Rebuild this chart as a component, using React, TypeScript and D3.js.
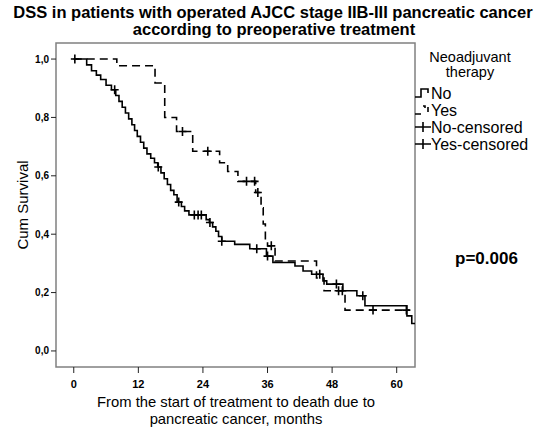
import React, { useEffect, useRef } from 'react';
import * as d3 from 'd3';

// step points [month, survival after the step]
const noSteps: [number, number][] = [
  [2.4, 0.98], [3.3, 0.96], [4.2, 0.945], [5.0, 0.93], [6.0, 0.91], [7.0, 0.895],
  [7.8, 0.875], [8.4, 0.855], [9.0, 0.835], [9.6, 0.815], [10.2, 0.795], [10.8, 0.775],
  [11.3, 0.755], [11.8, 0.735], [12.4, 0.715], [13.0, 0.695], [13.6, 0.675], [14.3, 0.66],
  [15.0, 0.645], [15.6, 0.63], [16.2, 0.61], [16.8, 0.59], [17.4, 0.57], [18.0, 0.55],
  [18.6, 0.535], [19.2, 0.51], [20.0, 0.495], [20.6, 0.48], [21.4, 0.466], [24.6, 0.45],
  [25.2, 0.44], [25.8, 0.425], [26.4, 0.41], [26.9, 0.392], [27.5, 0.376], [29.9, 0.365],
  [32.7, 0.35], [35.8, 0.325], [37.0, 0.303], [41.1, 0.291], [42.6, 0.274], [44.2, 0.263],
  [46.3, 0.24], [47.0, 0.229], [50.0, 0.206], [52.6, 0.189], [54.1, 0.155], [61.9, 0.12],
  [62.8, 0.094],
];
const noEnd = 63.4;
const noCensored = [7.6, 15.7, 19.5, 22.4, 23.1, 23.7, 25.3, 27.5, 34.0, 36.0, 45.7, 48.8, 53.7];

const yesSteps: [number, number][] = [
  [8.0, 0.977], [15.1, 0.918], [16.9, 0.80], [19.1, 0.752], [22.1, 0.684], [27.1, 0.645],
  [28.6, 0.615], [30.5, 0.581], [33.8, 0.543], [34.8, 0.49], [35.2, 0.435], [35.6, 0.38],
  [36.0, 0.36], [37.4, 0.308], [45.1, 0.25], [46.5, 0.206], [50.4, 0.14],
];
const yesEnd = 62.4;
const yesCensored = [0.2, 20.2, 24.9, 32.1, 33.6, 34.2, 36.7, 49.2, 49.9, 55.6, 61.8];

const xTicks = [0, 12, 24, 36, 48, 60];
const yTicks = [0, 0.2, 0.4, 0.6, 0.8, 1.0];
const legendItems = ['No', 'Yes', 'No-censored', 'Yes-censored'];

const W = 547;
const H = 430;
const FONT = 'Liberation Sans, Arial, sans-serif';
const NARROW = 'Liberation Sans Narrow, Arial Narrow, sans-serif';

function survivalAt(steps: [number, number][], t: number) {
  let s = 1;
  for (const [st, v] of steps) if (st <= t) s = v;
  return s;
}

const App = () => {
  const svgRef = useRef<SVGSVGElement>(null);

  useEffect(() => {
    const svg = d3.select(svgRef.current);
    svg.selectAll('*').remove();

    const x = d3.scaleLinear().domain([-3.3, 63.4]).range([56, 415]);
    const y = d3.scaleLinear().domain([-0.055, 1.055]).range([367, 43]);

    svg.append('rect').attr('width', W).attr('height', H).attr('fill', '#fff');

    // title
    const title = svg.append('text')
      .attr('text-anchor', 'middle')
      .attr('font-family', FONT)
      .attr('font-weight', 'bold')
      .attr('font-size', 16.5);
    title.append('tspan').attr('x', 273).attr('y', 18)
      .text('DSS in patients with operated AJCC stage IIB-III pancreatic cancer');
    title.append('tspan').attr('x', 274).attr('y', 34.5)
      .text('according to preoperative treatment');

    // frame
    svg.append('rect')
      .attr('x', 56).attr('y', 43).attr('width', 359).attr('height', 324)
      .attr('fill', 'none').attr('stroke', '#808080').attr('stroke-width', 1.5);

    // y axis
    const yAxis = svg.append('g');
    yTicks.forEach(v => {
      yAxis.append('line')
        .attr('x1', 51).attr('x2', 56).attr('y1', y(v)).attr('y2', y(v))
        .attr('stroke', '#222');
      yAxis.append('text')
        .attr('x', 49).attr('y', y(v) + 3.5)
        .attr('text-anchor', 'end')
        .attr('font-family', NARROW)
        .attr('font-weight', 'bold').attr('font-size', 10)
        .text(d3.format('.1f')(v).replace('.', ','));
    });

    // x axis
    const xAxis = svg.append('g');
    xTicks.forEach(v => {
      xAxis.append('line')
        .attr('x1', x(v)).attr('x2', x(v)).attr('y1', 367).attr('y2', 373)
        .attr('stroke', '#222');
      xAxis.append('text')
        .attr('x', x(v)).attr('y', 388)
        .attr('text-anchor', 'middle')
        .attr('font-family', NARROW)
        .attr('font-weight', 'bold').attr('font-size', 11)
        .text(v);
    });

    const xTitle = svg.append('text')
      .attr('text-anchor', 'middle')
      .attr('font-family', FONT)
      .attr('font-size', 14.8);
    xTitle.append('tspan').attr('x', 236).attr('y', 407)
      .text('From the start of treatment to death due to');
    xTitle.append('tspan').attr('x', 236).attr('y', 424)
      .text('pancreatic cancer, months');

    svg.append('text')
      .attr('transform', `translate(28,205) rotate(-90)`)
      .attr('text-anchor', 'middle')
      .attr('font-family', FONT)
      .attr('font-size', 15)
      .text('Cum Survival');

    // curves
    const line = d3.line<[number, number]>()
      .x(d => x(d[0]))
      .y(d => y(d[1]))
      .curve(d3.curveStepAfter);

    const noPts: [number, number][] = [[0, 1], ...noSteps, [noEnd, noSteps[noSteps.length - 1][1]]];
    const yesPts: [number, number][] = [[0, 1], ...yesSteps, [yesEnd, yesSteps[yesSteps.length - 1][1]]];

    svg.append('path').attr('d', line(yesPts))
      .attr('fill', 'none').attr('stroke', '#000').attr('stroke-width', 1.6)
      .attr('stroke-dasharray', '8,5');
    svg.append('path').attr('d', line(noPts))
      .attr('fill', 'none').attr('stroke', '#000').attr('stroke-width', 1.6);

    const plus = (cx: number, cy: number) => {
      svg.append('path')
        .attr('d', `M${cx - 4},${cy}H${cx + 4}M${cx},${cy - 4.5}V${cy + 4.5}`)
        .attr('stroke', '#000').attr('stroke-width', 1.6).attr('fill', 'none');
    };
    noCensored.forEach(t => plus(x(t), y(survivalAt(noSteps, t))));
    yesCensored.forEach(t => plus(x(t), y(survivalAt(yesSteps, t))));

    // legend
    const lg = svg.append('g').attr('font-family', FONT);
    lg.append('text').attr('x', 470).attr('y', 62).attr('text-anchor', 'middle')
      .attr('font-size', 14.5).text('Neoadjuvant');
    lg.append('text').attr('x', 470).attr('y', 77).attr('text-anchor', 'middle')
      .attr('font-size', 14.5).text('therapy');
    legendItems.forEach((name, i) => {
      const cy = 93 + i * 17;
      if (i === 0) {
        lg.append('path').attr('d', `M415,${cy + 4}H421V${cy - 4}H428V${cy}`)
          .attr('fill', 'none').attr('stroke', '#000').attr('stroke-width', 1.6);
      } else if (i === 1) {
        lg.append('path').attr('d', `M415,${cy + 4}H421M423,${cy - 4}H425V${cy - 2}M428,${cy - 3}V${cy + 2}`)
          .attr('fill', 'none').attr('stroke', '#000').attr('stroke-width', 1.6);
      } else {
        lg.append('path').attr('d', `M415,${cy}H431M423,${cy - 5}V${cy + 5}`)
          .attr('fill', 'none').attr('stroke', '#000').attr('stroke-width', 1.6);
      }
      lg.append('text').attr('x', 431).attr('y', cy + 5.5)
        .attr('font-size', 16).text(name);
    });

    svg.append('text')
      .attr('x', 455).attr('y', 264)
      .attr('font-family', FONT)
      .attr('font-weight', 'bold').attr('font-size', 17)
      .text('p=0.006');
  }, []);

  return (
    <svg ref={svgRef} width={W} height={H}
      style={{ position: 'absolute', left: 0, top: 0 }} />
  );
};

export default App;
